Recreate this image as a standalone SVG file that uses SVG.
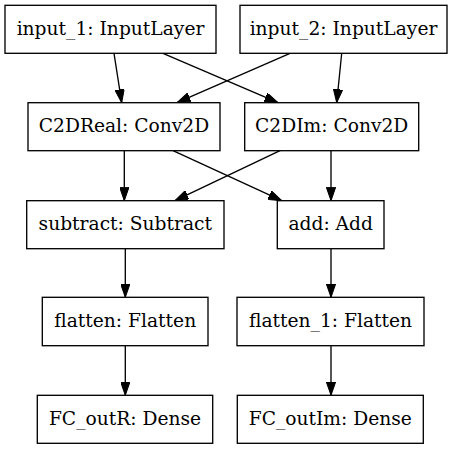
<svg xmlns="http://www.w3.org/2000/svg" width="456" height="449" viewBox="0 0 456 449">
<style>
.node rect{fill:#fff;stroke:#000;stroke-width:1.33}
.node text{font-family:"DejaVu Serif",serif;font-size:18.67px;text-anchor:middle;fill:#000}
.edges line{stroke:#000;stroke-width:1.33;marker-end:url(#ah)}
</style>
<defs>
<marker id="ah" viewBox="0 0 13.5 9.4" refX="13.5" refY="4.7" markerWidth="13.5" markerHeight="9.4" markerUnits="userSpaceOnUse" orient="auto">
<path d="M0,0L13.5,4.7L0,9.4z" fill="#000" stroke="#000" stroke-width="1"/>
</marker>
</defs>
<rect width="456" height="449" fill="#fff"/>
<g class="edges">
<line x1="114" y1="53.3" x2="121.7" y2="102.7"/>
<line x1="163" y1="53.3" x2="278" y2="102.7"/>
<line x1="290" y1="53.3" x2="177" y2="102.7"/>
<line x1="341.7" y1="53.3" x2="336.7" y2="102.7"/>
<line x1="124.3" y1="150.7" x2="124.3" y2="200.7"/>
<line x1="173" y1="150.7" x2="281.7" y2="200.7"/>
<line x1="280" y1="150.7" x2="175" y2="200.7"/>
<line x1="331" y1="150.7" x2="331" y2="200.7"/>
<line x1="125.3" y1="248.7" x2="125.3" y2="297.3"/>
<line x1="331" y1="248.7" x2="331" y2="297.3"/>
<line x1="125.3" y1="345.7" x2="125.3" y2="395.3"/>
<line x1="331" y1="345.7" x2="331" y2="395.3"/>
</g>
<g id="input_1" class="node"><rect x="5" y="5.3" width="211" height="48"/><text x="110.5" y="35">input_1: InputLayer</text></g>
<g id="input_2" class="node"><rect x="240" y="5.3" width="207" height="48"/><text x="343.5" y="35">input_2: InputLayer</text></g>
<g id="C2DReal" class="node"><rect x="28" y="102.7" width="192" height="48"/><text x="124" y="132">C2DReal: Conv2D</text></g>
<g id="C2DIm" class="node"><rect x="244.7" y="102.7" width="174" height="48"/><text x="331.7" y="132">C2DIm: Conv2D</text></g>
<g id="subtract" class="node"><rect x="26.7" y="200.7" width="197.3" height="48"/><text x="125.3" y="230">subtract: Subtract</text></g>
<g id="add" class="node"><rect x="277.3" y="200.7" width="106.7" height="48"/><text x="330.7" y="230">add: Add</text></g>
<g id="flatten" class="node"><rect x="42.3" y="297.3" width="165.7" height="48.4"/><text x="125.2" y="326.7">flatten: Flatten</text></g>
<g id="flatten_1" class="node"><rect x="237" y="297.3" width="187" height="48.4"/><text x="330.5" y="326.7">flatten_1: Flatten</text></g>
<g id="FC_outR" class="node"><rect x="37.3" y="395.3" width="175.4" height="48"/><text x="125" y="424.5">FC_outR: Dense</text></g>
<g id="FC_outIm" class="node"><rect x="237.3" y="395.3" width="186" height="48"/><text x="330.3" y="424.5">FC_outIm: Dense</text></g>
</svg>
